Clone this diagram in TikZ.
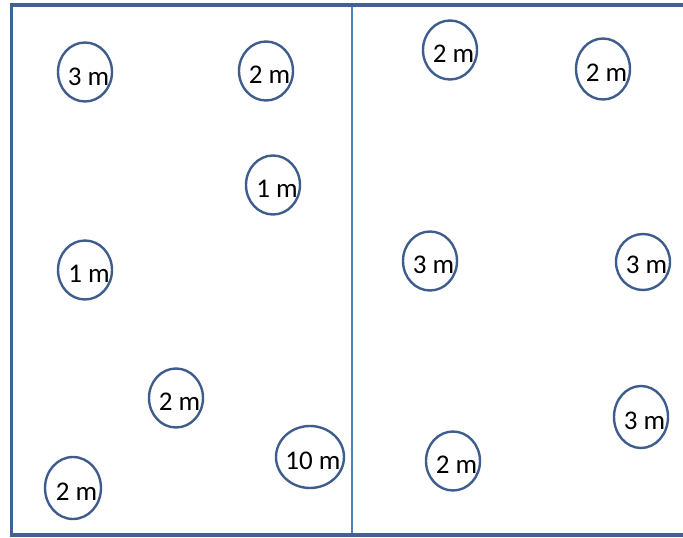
\documentclass[tikz,border=0pt]{standalone}
\usepackage{fontspec}
\setmainfont{Carlito}
\definecolor{border}{HTML}{41628F}
\definecolor{ring}{HTML}{3E5D8C}
\definecolor{divider}{HTML}{4F81BD}
\tikzset{
  x=1pt,y=-1pt,
  ring/.style={draw=ring,line width=2.4pt,ellipse,minimum width=54pt,minimum height=59pt,inner sep=0pt},
  lbl/.style={font=\fontsize{27}{27}\selectfont,inner sep=0pt,text=black}
}
\usetikzlibrary{shapes.geometric}
\begin{document}
\begin{tikzpicture}
\useasboundingbox (0,0) rectangle (683,538);
\fill[white] (0,0) rectangle (683,538);
\coordinate (tl) at (11.5,5);
\coordinate (br) at (700,535);
\coordinate (mt) at (352,5);
\coordinate (mb) at (352,535);
\draw[divider,line width=1.2pt] (mt) -- (mb);
\draw[border,line width=3.5pt] (tl) rectangle (br);
% circles
\node[ring] (c1) at (85,72) {};
\node[lbl] (t1) at (88.5,77) {3 m};
\node[ring] (c2) at (266,71) {};
\node[lbl] (t2) at (269.5,75) {2 m};
\node[ring] (c3) at (273,185) {};
\node[lbl] (t3) at (277,189) {1 m};
\node[ring] (c4) at (85,270) {};
\node[lbl] (t4) at (89,274) {1 m};
\node[ring] (c5) at (176,398) {};
\node[lbl] (t5) at (179.5,402) {2 m};
\node[ring,minimum width=68pt,minimum height=62pt] (c6) at (310,457) {};
\node[lbl] (t6) at (313,461) {10 m};
\node[ring,minimum width=56pt,minimum height=62pt] (c7) at (73,488) {};
\node[lbl] (t7) at (76.5,492) {2 m};
\node[ring] (c8) at (450,50) {};
\node[lbl] (t8) at (453.5,54) {2 m};
\node[ring,minimum height=61pt] (c9) at (603,69) {};
\node[lbl] (t9) at (606.5,73) {2 m};
\node[ring] (c10) at (430,261) {};
\node[lbl] (t10) at (433.5,265) {3 m};
\node[ring,minimum height=56pt] (c11) at (643,262) {};
\node[lbl] (t11) at (646.5,265) {3 m};
\node[ring,minimum height=62pt] (c12) at (641,417) {};
\node[lbl] (t12) at (644.5,421) {3 m};
\node[ring] (c13) at (453,461) {};
\node[lbl] (t13) at (456.5,465) {2 m};
\end{tikzpicture}
\end{document}
